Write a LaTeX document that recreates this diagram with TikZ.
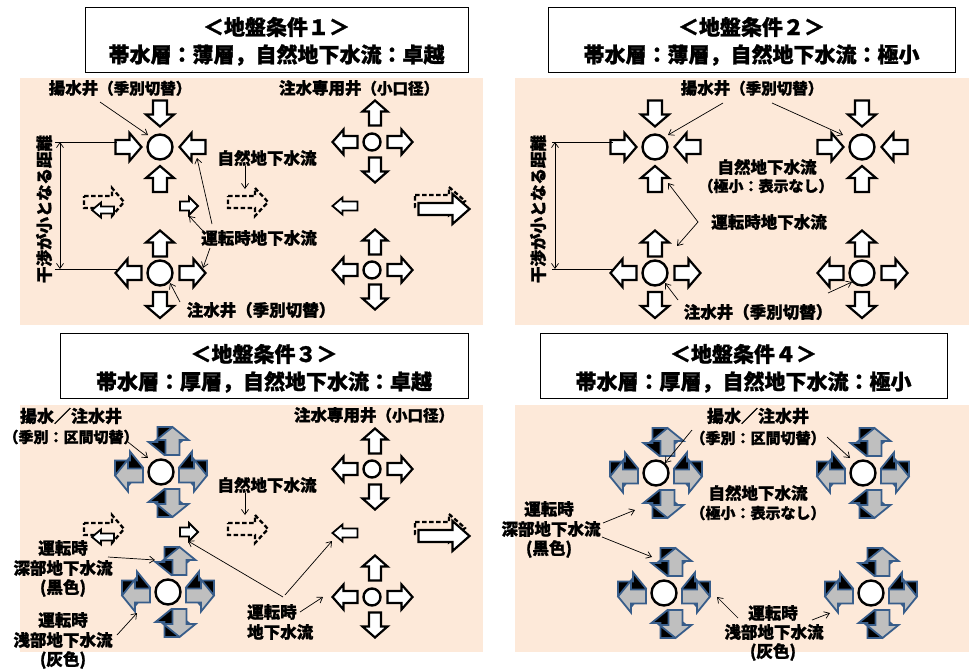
\documentclass[tikz,border=0pt]{standalone}
\usepackage{fontspec}
\setmainfont{Noto Sans CJK JP}[BoldFeatures={FakeBold=1.2}]
\usetikzlibrary{arrows.meta}
\definecolor{bgpink}{HTML}{FDE9D9}
\definecolor{blueo}{RGB}{56,93,138}
\definecolor{grayf}{HTML}{BFBFBF}
\newcommand\barr[8]{\path[#4,shift={(#1,#2)},rotate=#3] (-#5/2,-#8) -- ({#5/2-#6},-#8) -- ({#5/2-#6},-#7) -- (#5/2,0) -- ({#5/2-#6},#7) -- ({#5/2-#6},#8) -- (-#5/2,#8) -- cycle;}
\newcommand\bigarr[3]{\barr{#1}{#2}{#3}{blkarr}{26}{12}{14}{7}}
\newcommand\smarr[3]{\barr{#1}{#2}{#3}{blkarr}{25}{11}{12.5}{6}}
\newcommand\pairarr[4]{%
 \begin{scope}[shift={(#1,#2)},rotate=#3]
 \barr{0}{{(#4)*4.5}}{180}{blackarr}{28}{13}{16}{7}
 \barr{0}{{(#4)*(-3.5)}}{0}{grayarr}{28}{13}{16}{7}
 \end{scope}}
\newcommand\wellpair[3]{%
 \pairarr{#2+8}{#3-31}{90}{-1}
 \pairarr{#2+8}{#3+31}{-90}{1}
 \pairarr{#2-32}{#3}{180}{1}
 \pairarr{#2+32}{#3}{0}{-1}
 \node[well,minimum size=25pt] (#1) at (#2,#3) {};}
\newcommand\conn[5]{\coordinate (#1s) at (#2,#3); \coordinate (#1e) at (#4,#5); \draw[conn] (#1s) -- (#1e);}
\tikzset{
 blkarr/.style={draw=black,line width=2.2pt,fill=white,line join=miter},
 thinarr/.style={draw=black,line width=1.8pt,fill=white,line join=miter},
 dsh/.style={draw=black,line width=2.3pt,dash pattern=on 4.5pt off 2.5pt},
 blackarr/.style={draw=blueo,line width=1.8pt,fill=black,line join=miter},
 grayarr/.style={draw=blueo,line width=1.8pt,fill=grayf,line join=miter},
 well/.style={circle,draw=black,line width=2.4pt,fill=white,inner sep=0pt},
 tbox/.style={draw=black,line width=0.9pt,fill=white,inner sep=0pt},
 ttl/.style={font=\bfseries\fontsize{21}{22}\selectfont,inner sep=0pt},
 lbl/.style={font=\bfseries\fontsize{16.5}{18}\selectfont,inner sep=0pt},
 slbl/.style={font=\bfseries\fontsize{15}{16}\selectfont,inner sep=0pt},
 conn/.style={line width=0.7pt,-{Straight Barb[length=5pt,width=7pt]}},
 dimarr/.style={line width=0.7pt,{Straight Barb[length=5pt,width=7pt]}-{Straight Barb[length=5pt,width=7pt]}},
 dimln/.style={line width=0.7pt},
}
\newcommand\sm[1]{{\fontsize{15.5}{16}\selectfont #1}}
\begin{document}
\begin{tikzpicture}[x=1pt,y=-1pt]
\useasboundingbox (0,0) rectangle (969,670);
\fill[white] (0,0) rectangle (969,670);
% ================= Panel 1 =================
\fill[bgpink] (20,78) rectangle (483,325);
\node[tbox,minimum width=383pt,minimum height=65pt] (t1) at (276.5,39.5) {};
\node[ttl] (t1a) at (276.5,27) {＜地盤条件１＞};
\node[ttl] (t1b) at (276.5,55) {帯水層：薄層，自然地下水流：卓越};
\bigarr{160}{113.5}{-90}\bigarr{128.5}{147}{0}\bigarr{192.5}{147}{180}\bigarr{160}{179}{90}
\node[well,minimum size=25pt] (w1a) at (160,147) {};
\bigarr{160}{243.5}{90}\bigarr{128.5}{273}{180}\bigarr{192.5}{273}{0}\bigarr{160}{305}{-90}
\node[well,minimum size=25pt] (w1b) at (160,273) {};
\smarr{375}{113}{90}\smarr{345}{142}{180}\smarr{400}{142}{0}\smarr{375}{170}{-90}
\node[well,minimum size=17pt] (w1c) at (372,142) {};
\smarr{375}{242}{90}\smarr{345}{270}{180}\smarr{400}{270}{0}\smarr{375}{297}{-90}
\node[well,minimum size=17pt] (w1d) at (372,270) {};
\barr{104}{202}{0}{dsh}{40}{12}{14}{6}
\barr{103}{210}{180}{thinarr}{22}{9}{7.5}{3.5}
\barr{189}{206}{0}{thinarr}{18}{9}{9}{4.5}
\barr{248}{202}{0}{dsh}{40}{13}{14}{6}
\barr{345}{206}{180}{thinarr}{25}{10}{8.5}{4.5}
\barr{440}{201}{0}{dsh}{50}{16}{14}{6}
\barr{444}{209}{0}{blkarr}{51}{17}{15}{6}
\node[lbl] (l1a) at (120,88) {揚水井\sm{（季別切替）}};
\node[lbl] (l1b) at (359,88) {注水専用井\sm{（小口径）}};
\node[lbl] (l1c) at (267,158) {自然地下水流};
\node[lbl] (l1d) at (259,238) {運転時地下水流};
\node[lbl] (l1e) at (261,310) {注水井（季別切替）};
\node[lbl,rotate=90] (l1f) at (44,209) {干渉が小となる距離};
\conn{c1a}{100}{102}{148}{135}
\conn{c1b}{245}{166}{245}{189}
\conn{c1c}{212}{224}{197}{158}
\conn{c1d}{203}{231}{189}{216}
\conn{c1e}{210}{248}{203}{268}
\conn{c1f}{180}{302}{170}{283}
\coordinate (d1a) at (55,142); \coordinate (d1b) at (117,142);
\coordinate (d1c) at (55,269); \coordinate (d1d) at (117,269);
\coordinate (d1e) at (60,142); \coordinate (d1f) at (60,269);
\draw[dimln] (d1a) -- (d1b); \draw[dimln] (d1c) -- (d1d);
\draw[dimarr] (d1e) -- (d1f);
% ================= Panel 2 =================
\fill[bgpink] (515,78) rectangle (969,325);
\node[tbox,minimum width=407pt,minimum height=65pt] (t2) at (751.5,39.5) {};
\node[ttl] (t2a) at (751.5,27) {＜地盤条件２＞};
\node[ttl] (t2b) at (751.5,55) {帯水層：薄層，自然地下水流：極小};
\bigarr{655}{113.5}{-90}\bigarr{623.5}{147}{0}\bigarr{687.5}{147}{180}\bigarr{655}{179}{90}
\node[well,minimum size=25pt] (w2a) at (655,147) {};
\bigarr{862}{113.5}{-90}\bigarr{830.5}{147}{0}\bigarr{894.5}{147}{180}\bigarr{862}{179}{90}
\node[well,minimum size=25pt] (w2b) at (862,147) {};
\bigarr{655}{243.5}{90}\bigarr{623.5}{273}{180}\bigarr{687.5}{273}{0}\bigarr{655}{305}{-90}
\node[well,minimum size=25pt] (w2c) at (655,273) {};
\bigarr{862}{243.5}{90}\bigarr{830.5}{273}{180}\bigarr{894.5}{273}{0}\bigarr{862}{305}{-90}
\node[well,minimum size=25pt] (w2d) at (862,273) {};
\node[lbl] (l2a) at (752,88) {揚水井\sm{（季別切替）}};
\node[lbl] (l2b) at (767,167) {自然地下水流};
\node[slbl] (l2c) at (766,186) {（極小：表示なし）};
\node[lbl] (l2d) at (769,222) {運転時地下水流};
\node[lbl] (l2e) at (758,312) {注水井（季別切替）};
\node[lbl,rotate=90] (l2f) at (538,209) {干渉が小となる距離};
\conn{c2a}{723}{103}{668}{135}
\conn{c2b}{772}{103}{843}{135}
\conn{c2c}{698}{222}{668}{183}
\conn{c2d}{698}{222}{677}{246}
\conn{c2e}{678}{300}{665}{283}
\conn{c2f}{828}{293}{852}{282}
\coordinate (d2a) at (552,142); \coordinate (d2b) at (613,142);
\coordinate (d2c) at (552,269); \coordinate (d2d) at (613,269);
\coordinate (d2e) at (555,142); \coordinate (d2f) at (555,269);
\draw[dimln] (d2a) -- (d2b); \draw[dimln] (d2c) -- (d2d);
\draw[dimarr] (d2e) -- (d2f);
% ================= Panel 3 =================
\fill[bgpink] (20,405) rectangle (483,652);
\node[tbox,minimum width=408pt,minimum height=65pt] (t3) at (264,365.5) {};
\node[ttl] (t3a) at (264,354) {＜地盤条件３＞};
\node[ttl] (t3b) at (264,382) {帯水層：厚層，自然地下水流：卓越};
\wellpair{w3a}{161}{472}
\wellpair{w3b}{168}{592}
\smarr{375}{441}{90}\smarr{345}{469}{180}\smarr{400}{469}{0}\smarr{375}{497}{-90}
\node[well,minimum size=17pt] (w3c) at (372,469) {};
\smarr{375}{568}{90}\smarr{345}{597}{180}\smarr{400}{597}{0}\smarr{375}{625}{-90}
\node[well,minimum size=17pt] (w3d) at (372,597) {};
\barr{104}{529}{0}{dsh}{40}{12}{14}{6}
\barr{103}{537}{180}{thinarr}{22}{9}{7.5}{3.5}
\barr{189}{532}{0}{thinarr}{18}{9}{9}{4.5}
\barr{248}{529}{0}{dsh}{40}{13}{14}{6}
\barr{345}{533}{180}{thinarr}{25}{10}{8.5}{4.5}
\barr{440}{528}{0}{dsh}{50}{16}{14}{6}
\barr{444}{536}{0}{blkarr}{51}{17}{15}{6}
\node[lbl,font=\bfseries\fontsize{17}{18}\selectfont] (l3a) at (71,416) {揚水／注水井};
\node[slbl] (l3b) at (71,437) {（季別：区間切替）};
\node[lbl] (l3c) at (374,415) {注水専用井\sm{（小口径）}};
\node[lbl] (l3d) at (267,485) {自然地下水流};
\node[lbl] (l3e) at (63,548) {運転時};
\node[lbl] (l3f) at (63,568) {深部地下水流};
\node[lbl] (l3g) at (63,588) {(黒色)};
\node[lbl] (l3h) at (63,620) {運転時};
\node[lbl] (l3i) at (63,640) {浅部地下水流};
\node[lbl] (l3j) at (63,660) {(灰色)};
\node[lbl,anchor=west] (l3k) at (247,612) {運転時};
\node[lbl,anchor=west] (l3l) at (247,632) {地下水流};
\conn{c3a}{128}{442}{148}{458}
\conn{c3b}{245}{493}{245}{515}
\conn{c3c}{108}{557}{155}{560}
\conn{c3d}{117}{635}{137}{613}
\conn{c3e}{283}{597}{188}{541}
\conn{c3f}{285}{595}{332}{541}
\conn{c3g}{300}{612}{323}{597}
% ================= Panel 4 =================
\fill[bgpink] (515,405) rectangle (969,652);
\node[tbox,minimum width=407pt,minimum height=65pt] (t4) at (743.5,365.5) {};
\node[ttl] (t4a) at (743.5,354) {＜地盤条件４＞};
\node[ttl] (t4b) at (743.5,382) {帯水層：厚層，自然地下水流：極小};
\wellpair{w4a}{656}{473}
\wellpair{w4b}{863}{473}
\wellpair{w4c}{664}{593}
\wellpair{w4d}{871}{593}
\node[lbl,font=\bfseries\fontsize{17}{18}\selectfont] (l4a) at (758,416) {揚水／注水井};
\node[slbl] (l4b) at (758,438) {（季別：区間切替）};
\node[lbl] (l4c) at (758,493) {自然地下水流};
\node[slbl] (l4d) at (758,513) {（極小：表示なし）};
\node[lbl] (l4e) at (549,509) {運転時};
\node[lbl] (l4f) at (551,529) {深部地下水流};
\node[lbl] (l4g) at (549,549) {(黒色)};
\node[lbl] (l4h) at (773,613) {運転時};
\node[lbl] (l4i) at (774,632) {浅部地下水流};
\node[lbl] (l4j) at (773,652) {(灰色)};
\conn{c4a}{692}{430}{665}{463}
\conn{c4b}{827}{437}{850}{458}
\conn{c4c}{603}{523}{635}{510}
\conn{c4d}{602}{537}{652}{557}
\conn{c4e}{738}{618}{717}{597}
\conn{c4f}{812}{620}{830}{613}
\end{tikzpicture}
\end{document}
